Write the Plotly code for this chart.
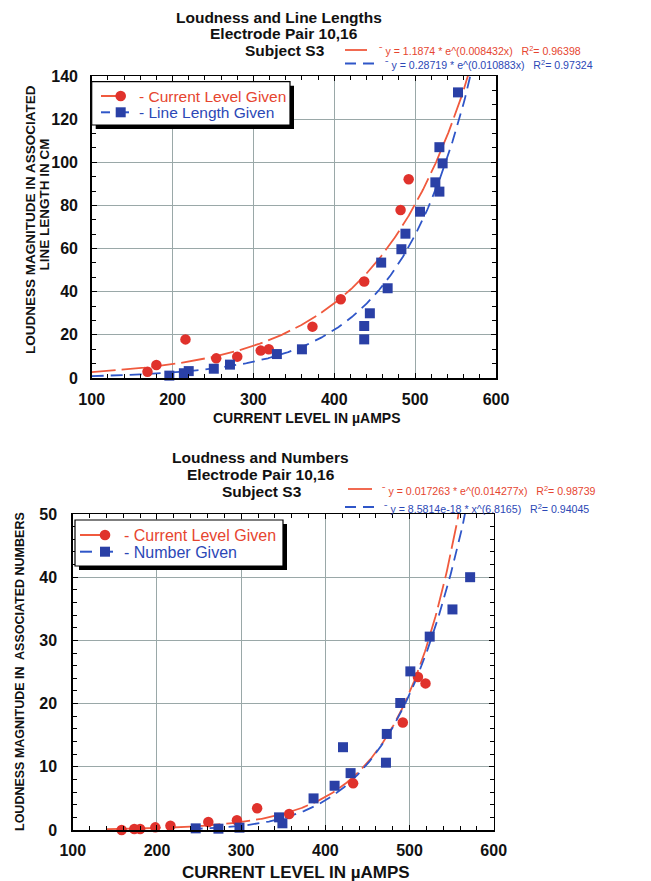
import numpy as np
import plotly.graph_objects as go

W, H = 651, 881

# ---------------- data ----------------
# Top chart: Loudness and Line Lengths
top_red_x = [169, 180, 216, 254, 280, 309, 319, 373, 408, 437, 482, 492]
top_red_y = [2.9, 6.0, 17.9, 9.1, 9.9, 12.7, 13.3, 23.8, 36.5, 44.7, 77.9, 92.1]
top_blue_x = [196, 214, 220, 251, 271, 329, 360, 437, 437, 444, 458, 466, 483, 488, 506, 525, 530, 534, 530, 553]
top_blue_y = [1.1, 2.2, 3.2, 4.3, 6.2, 11.1, 13.3, 17.9, 24.1, 30.0, 53.5, 41.6, 59.7, 66.9, 77.1, 90.7, 86.4, 99.5, 107, 132.4]
# fitted trend coefficients printed on the chart
top_red_fit = (1.1874, 0.008432)      # y = a * e^(b x)
top_blue_fit = (0.28719, 0.010883)    # y = a * e^(b x)

# Bottom chart: Loudness and Numbers
bot_red_x = [158, 173, 180, 198, 216, 261, 295, 319, 357, 433, 492, 510, 519]
bot_red_y = [0.0, 0.16, 0.16, 0.42, 0.68, 1.27, 1.53, 3.43, 2.53, 7.38, 17.0, 24.2, 23.2]
bot_blue_x = [246, 273, 298, 345, 349, 386, 411, 421, 430, 472, 473, 489, 501, 524, 551, 572]
bot_blue_y = [0.26, 0.21, 0.37, 2.0, 1.06, 5.0, 7.0, 13.1, 9.0, 10.65, 15.2, 20.1, 25.1, 30.6, 34.9, 40.0]
bot_red_fit = (0.017263, 0.014277)    # y = a * e^(b x)
bot_blue_fit = (8.5814e-18, 6.8165)   # y = a * x^b

x_ticks = [100, 200, 300, 400, 500, 600]
top_y_ticks = [0, 20, 40, 60, 80, 100, 120, 140]
bot_y_ticks = [0, 10, 20, 30, 40, 50]

# ---------------- styles ----------------
RED_MK = "#e0322c"
BLUE_MK = "#2a40a6"
RED_LN = "#f05a3e"
BLUE_LN = "#2f56c8"
RED_TX = "#e6452f"
BLUE_TX = "#2c48b6"
GRID = "#9aa8a8"
FONT = "Liberation Sans"


def X(px):
    return px / W


def Y(py):
    return 1 - py / H


fig = go.Figure()

# fit curves
tx = np.linspace(100, 600, 400)
fig.add_trace(go.Scatter(x=tx, y=top_red_fit[0] * np.exp(top_red_fit[1] * tx), mode="lines",
                         line=dict(color=RED_LN, width=1.8, dash="24px,6px"), xaxis="x", yaxis="y",
                         hoverinfo="skip"))
fig.add_trace(go.Scatter(x=tx, y=top_blue_fit[0] * np.exp(top_blue_fit[1] * tx), mode="lines",
                         line=dict(color=BLUE_LN, width=1.8, dash="12px,7px"), xaxis="x", yaxis="y",
                         hoverinfo="skip"))
bx_r = np.linspace(140, 600, 400)
bx_b = np.linspace(240, 600, 400)
fig.add_trace(go.Scatter(x=bx_r, y=bot_red_fit[0] * np.exp(bot_red_fit[1] * bx_r), mode="lines",
                         line=dict(color=RED_LN, width=1.8, dash="24px,6px"), xaxis="x2", yaxis="y2",
                         hoverinfo="skip"))
fig.add_trace(go.Scatter(x=bx_b, y=bot_blue_fit[0] * np.power(bx_b, bot_blue_fit[1]), mode="lines",
                         line=dict(color=BLUE_LN, width=1.8, dash="12px,7px"), xaxis="x2", yaxis="y2",
                         hoverinfo="skip"))

# data markers
fig.add_trace(go.Scatter(x=top_red_x, y=top_red_y, mode="markers", cliponaxis=False,
                         marker=dict(symbol="circle", size=10.5, color=RED_MK, line=dict(width=0)),
                         xaxis="x", yaxis="y"))
fig.add_trace(go.Scatter(x=top_blue_x, y=top_blue_y, mode="markers", cliponaxis=False,
                         marker=dict(symbol="square", size=10, color=BLUE_MK, line=dict(width=0)),
                         xaxis="x", yaxis="y"))
fig.add_trace(go.Scatter(x=bot_red_x, y=bot_red_y, mode="markers", cliponaxis=False,
                         marker=dict(symbol="circle", size=10.5, color=RED_MK, line=dict(width=0)),
                         xaxis="x2", yaxis="y2"))
fig.add_trace(go.Scatter(x=bot_blue_x, y=bot_blue_y, mode="markers", cliponaxis=False,
                         marker=dict(symbol="square", size=10, color=BLUE_MK, line=dict(width=0)),
                         xaxis="x2", yaxis="y2"))

tickfont = dict(family=FONT, size=16, color="#111", weight="bold")
common_axis = dict(showline=True, linecolor="black", linewidth=1.5, mirror="allticks",
                   ticks="inside", ticklen=5, tickcolor="black", tickwidth=1,
                   showgrid=True, gridcolor=GRID, gridwidth=1, zeroline=False,
                   tickfont=tickfont, fixedrange=True, automargin=False)

# plot-area pixel boxes
T_L, T_R, T_T, T_B = 91.7, 496.0, 76.0, 378.0
B_L, B_R, B_T, B_B = 72.8, 493.7, 514.0, 830.0

fig.update_layout(
    template="none",
    width=W, height=H, margin=dict(l=0, r=0, t=0, b=0, autoexpand=False),
    paper_bgcolor="white", plot_bgcolor="white", showlegend=False,
    xaxis=dict(common_axis, domain=[X(T_L), X(T_R)], range=[100, 600], tickvals=x_ticks,
               ticklabelstandoff=6, anchor="y",
               minor=dict(ticks="inside", ticklen=4, dtick=20, tickcolor="black", showgrid=False)),
    yaxis=dict(common_axis, domain=[Y(T_B), Y(T_T)], range=[0, 140], tickvals=top_y_ticks,
               ticklabelstandoff=9, anchor="x",
               minor=dict(ticks="inside", ticklen=4, dtick=20 / 3, tickcolor="black", showgrid=False)),
    xaxis2=dict(common_axis, domain=[X(B_L), X(B_R)], range=[100, 600], tickvals=x_ticks,
                ticklabelstandoff=5, anchor="y2",
                minor=dict(ticks="inside", ticklen=4, dtick=20, tickcolor="black", showgrid=False)),
    yaxis2=dict(common_axis, domain=[Y(B_B), Y(B_T)], range=[0, 50], tickvals=bot_y_ticks,
                ticklabelstandoff=11, anchor="x2",
                minor=dict(ticks="inside", ticklen=4, dtick=2, tickcolor="black", showgrid=False)),
)

ann = []
shapes = []


def text(x, y, s, size, color="#111", bold=False, anchor="center", angle=0):
    ann.append(dict(x=X(x), y=Y(y), xref="paper", yref="paper", text=s, showarrow=False,
                    xanchor=anchor, yanchor="middle", textangle=angle,
                    font=dict(family=FONT, size=size, color=color, weight="bold" if bold else "normal")))


def hline(x0, x1, y, color, dash="solid", width=1.8):
    shapes.append(dict(type="line", xref="paper", yref="paper", x0=X(x0), x1=X(x1), y0=Y(y), y1=Y(y),
                       line=dict(color=color, width=width, dash=dash), layer="above"))


# ---- titles ----
text(279, 17, "Loudness and Line Lengths", 15.5, bold=True)
text(284, 33.5, "Electrode Pair 10,16", 15.5, bold=True)
text(285, 50.5, "Subject S3", 15.5, bold=True)

text(260, 457, "Loudness and Numbers", 15.5, bold=True)
text(261, 474, "Electrode Pair 10,16", 15.5, bold=True)
text(262, 491.5, "Subject S3", 15.5, bold=True)

# ---- fit equations ----
EQ = 10.6
hline(345, 367, 50, RED_LN)
text(377, 51, "ˉ y = 1.1874 * e^(0.008432x)   R<sup>2</sup>= 0.96398", EQ, RED_TX, anchor="left")
hline(345, 374, 63.5, BLUE_LN, dash="11px,7px")
text(383, 64, "ˉ y = 0.28719 * e^(0.010883x)   R<sup>2</sup>= 0.97324", EQ, BLUE_TX, anchor="left")

hline(348, 372, 489, RED_LN)
text(380, 490, "ˉ y = 0.017263 * e^(0.014277x)   R<sup>2</sup>= 0.98739", EQ, RED_TX, anchor="left")
hline(345, 374, 507, BLUE_LN, dash="11px,7px")
text(382, 508, "ˉ y = 8.5814e-18 * x^(6.8165)   R<sup>2</sup>= 0.94045", EQ, BLUE_TX, anchor="left")

# ---- axis titles ----
text(307, 418, "CURRENT LEVEL IN µAMPS", 14, bold=True)
text(296, 872.5, "CURRENT LEVEL IN µAMPS", 17, bold=True)
text(30, 220, "LOUDNESS MAGNITUDE IN ASSOCIATED", 13.5, bold=True, angle=-90)
text(43.5, 205, "LINE LENGTH IN CM", 13.5, bold=True, angle=-90)
text(20, 672, "LOUDNESS MAGNITUDE IN  ASSOCIATED NUMBERS", 12.5, bold=True, angle=-90)


# ---- legend boxes ----
def legend_box(x0, y0, x1, y1):
    shapes.append(dict(type="rect", xref="paper", yref="paper", x0=X(x0 + 4), x1=X(x1 + 4),
                       y0=Y(y1 + 4), y1=Y(y0 + 4), fillcolor="black", line=dict(width=0), layer="above"))
    shapes.append(dict(type="rect", xref="paper", yref="paper", x0=X(x0), x1=X(x1),
                       y0=Y(y1), y1=Y(y0), fillcolor="white", line=dict(color="black", width=1.2),
                       layer="above"))


def circle(cx, cy, r, color):
    shapes.append(dict(type="circle", xref="paper", yref="paper", x0=X(cx - r), x1=X(cx + r),
                       y0=Y(cy + r), y1=Y(cy - r), fillcolor=color, line=dict(width=0), layer="above"))


def square(cx, cy, r, color):
    shapes.append(dict(type="rect", xref="paper", yref="paper", x0=X(cx - r), x1=X(cx + r),
                       y0=Y(cy + r), y1=Y(cy - r), fillcolor=color, line=dict(width=0), layer="above"))


legend_box(T_L, 81.7, 290, 125)
hline(101, 121, 96, RED_LN, width=2)
circle(120.7, 96, 5.3, RED_MK)
text(136.5, 96.5, "- Current Level Given", 15.5, RED_TX, anchor="left")
hline(101, 110, 112.3, BLUE_LN, width=2)
hline(124, 129, 112.3, BLUE_LN, width=2)
square(120.7, 112.3, 5, BLUE_MK)
text(136.5, 112.8, "- Line Length Given", 15.5, BLUE_TX, anchor="left")

legend_box(75, 520, 283, 566)
hline(80, 105, 535, RED_LN, width=2)
circle(105, 535, 5.3, RED_MK)
text(121.5, 535.5, "- Current Level Given", 16, RED_TX, anchor="left")
hline(80, 92, 551.7, BLUE_LN, width=2)
hline(109, 113, 551.7, BLUE_LN, width=2)
square(105, 551.7, 5, BLUE_MK)
text(121.5, 552.2, "- Number Given", 16, BLUE_TX, anchor="left")

fig.update_layout(annotations=ann, shapes=shapes)
fig.write_html("out.html", config={"displayModeBar": False, "staticPlot": True},
               post_script="document.body.style.margin='0px';document.body.style.overflow='hidden';")
